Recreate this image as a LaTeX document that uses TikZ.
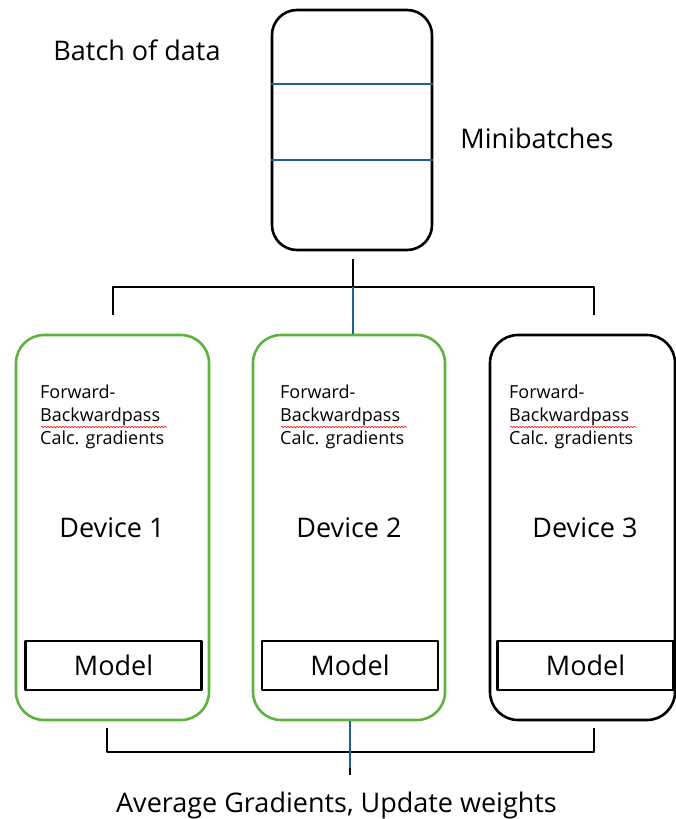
\documentclass[tikz,border=0pt]{standalone}
\usepackage{fontspec}
\setmainfont{Open Sans}
\usetikzlibrary{decorations.pathmorphing}
\definecolor{grn}{RGB}{96,178,64}
\definecolor{lnblue}{RGB}{31,99,138}
\begin{document}
\begin{tikzpicture}[x=1pt,y=-1pt,line join=round,
  big/.style={font=\fontsize{27}{32}\selectfont, inner sep=0pt},
  small/.style={font=\fontsize{18}{22.7}\selectfont, align=left, inner sep=0pt, anchor=north west},
  devbox/.style={draw=#1, line width=2.6pt, rounded corners=28pt},
  modelbox/.style={draw, line width=2.6pt, minimum width=176pt, minimum height=49pt, big},
  conn/.style={line width=2.6pt},
  spell/.style={red, line width=0.6pt, decorate, decoration={snake, amplitude=0.7pt, segment length=3pt}}]
\useasboundingbox (0,0) rectangle (675,819);

% batch box
\node[draw, line width=2.6pt, rounded corners=25pt, minimum width=160pt, minimum height=240pt] (batch) at (352,130) {};
\coordinate (h1) at (0,84);
\coordinate (h2) at (0,160);
\draw[conn, lnblue] (batch.west |- h1) -- (batch.east |- h1);
\draw[conn, lnblue] (batch.west |- h2) -- (batch.east |- h2);

\node[big] (lbatch) at (137,50) {Batch of data};
\node[big] (lmini) at (537,138) {Minibatches};

% devices
\node[devbox=grn, minimum width=193pt, minimum height=385pt] (dev1) at (112.5,527.5) {};
\node[devbox=grn, minimum width=192pt, minimum height=385pt] (dev2) at (349,527.5) {};
\node[devbox=black, minimum width=185pt, minimum height=385pt] (dev3) at (582.5,527.5) {};

\node[small] (t1) at (40,385) {Forward-\\Backwardpass\\Calc. gradients};
\node[small] (t2) at (280,385) {Forward-\\Backwardpass\\Calc. gradients};
\node[small] (t3) at (509,385) {Forward-\\Backwardpass\\Calc. gradients};
\draw[spell] (41,427) -- (167,427);
\draw[spell] (281,427) -- (407,427);
\draw[spell] (510,427) -- (636,427);

\node[big] (d1) at (112,528) {Device 1};
\node[big] (d2) at (349,528) {Device 2};
\node[big] (d3) at (585,528) {Device 3};

\node[modelbox] (m1) at (113.5,665.5) {Model};
\node[modelbox] (m2) at (350,665.5) {Model};
\node[modelbox] (m3) at (585.5,665.5) {Model};

% top connectors
\coordinate (split) at (353,287);
\coordinate (tl) at (113,315);
\coordinate (tr) at (594,315);
\draw[conn] ([yshift=-8pt]batch.south -| split) -- (split);
\draw[conn] (tl) -- (tl |- split) -- (tr |- split) -- (tr);
\draw[conn, lnblue] (split) -- (split |- dev2.north);

% bottom connectors
\coordinate (join) at (350,752);
\coordinate (bl) at (107,728);
\coordinate (br) at (594,728);
\coordinate (bend) at (350,768);
\coordinate (tail) at (350,775);
\draw[conn] (bl) -- (bl |- join) -- (br |- join) -- (br);
\draw[conn, lnblue] (join |- dev2.south) -- (bend);
\draw[conn] (bend) -- (tail);

\node[big] (lavg) at (336.5,805) {Average Gradients, Update weights};
\end{tikzpicture}
\end{document}
